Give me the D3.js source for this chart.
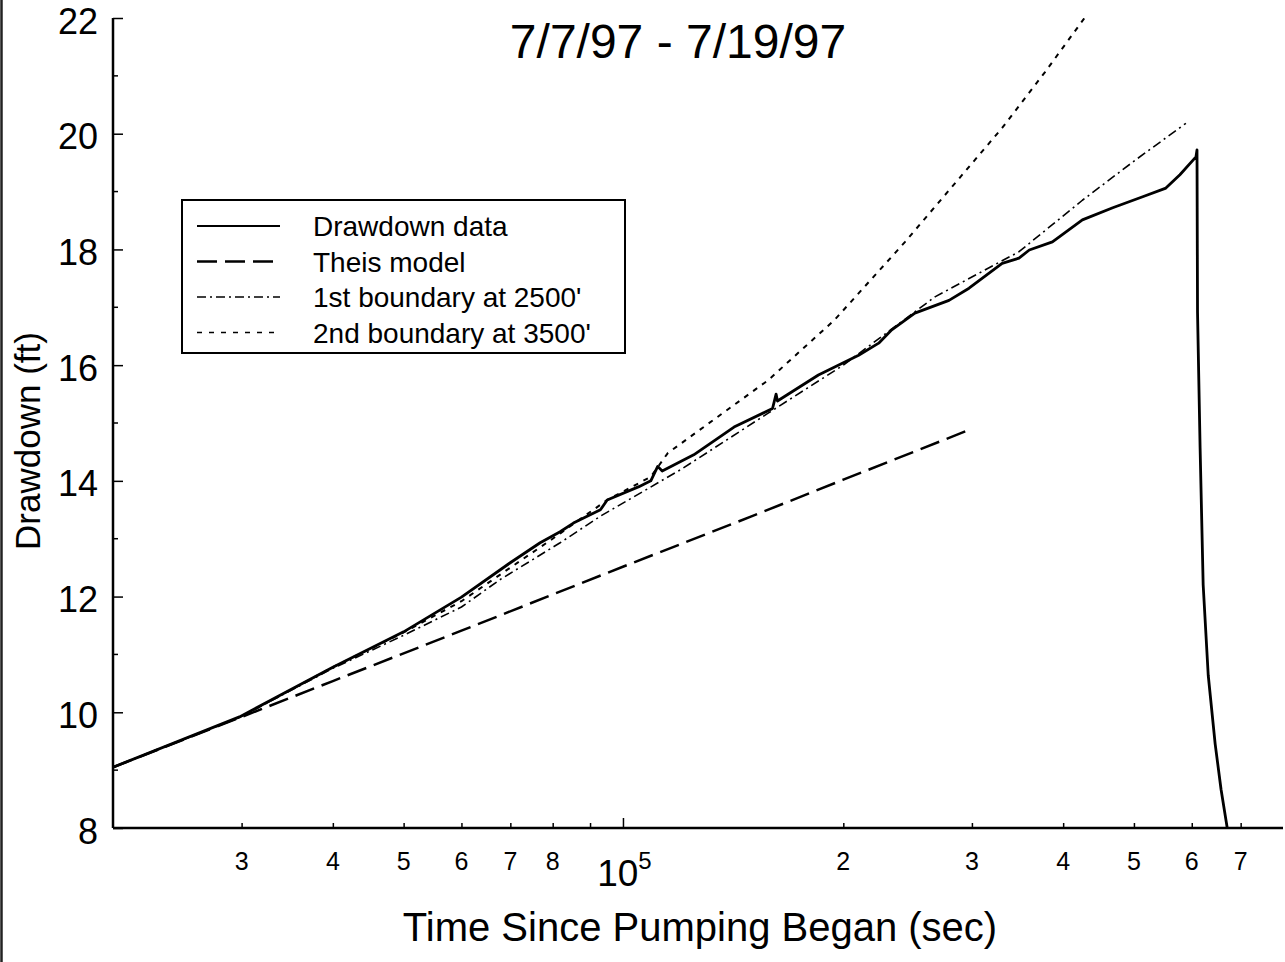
<!DOCTYPE html>
<html>
<head>
<meta charset="utf-8">
<script src="https://cdn.jsdelivr.net/npm/d3@7"></script>
<style>
  html, body { margin: 0; padding: 0; background: #fff; }
  svg { display: block; font-family: "Liberation Sans", Arial, sans-serif; }
</style>
</head>
<body>
<svg id="chart" width="1285" height="962"></svg>
<script>
// drawdown record, time since pumping began (sec) vs drawdown (ft)
const dataTime = [2e4, 2.98e4, 4e4, 5e4, 6e4, 6.99e4, 7.69e4, 8.19e4, 8.54e4, 9.3e4, 9.5e4,
  1.05e5, 1.09e5, 1.114e5, 1.13e5, 1.248e5, 1.417e5, 1.6e5, 1.618e5, 1.625e5, 1.849e5, 2.099e5,
  2.236e5, 2.33e5, 2.506e5, 2.791e5, 2.973e5, 3.3e5, 3.48e5, 3.595e5, 3.867e5, 4.25e5,
  4.677e5, 5.14e5, 5.53e5, 5.78e5, 6.08e5, 6.1e5,
  6.11e5, 6.16e5, 6.22e5, 6.32e5, 6.46e5, 6.58e5, 6.71e5];
const dataDrawdown = [9.05, 9.92, 10.78, 11.39, 11.99, 12.58, 12.93, 13.12, 13.27, 13.5, 13.67,
  13.9, 14.0, 14.25, 14.17, 14.45, 14.93, 15.25, 15.5, 15.38, 15.83, 16.17,
  16.38, 16.61, 16.9, 17.12, 17.33, 17.76, 17.85, 17.99, 18.13, 18.51,
  18.72, 18.91, 19.06, 19.29, 19.6, 19.72,
  16.92, 14.57, 12.2, 10.64, 9.45, 8.67, 8.0];

// Theis model
const theisTime = [2e4, 3e4, 4e4, 6e4, 1e5, 1.5e5, 2e5, 3e5];
const theisDrawdown = [9.05, 9.92, 10.54, 11.41, 12.52, 13.39, 14.02, 14.9];

// 1st boundary at 2500'
const b1Time = [2e4, 3e4, 4e4, 5e4, 6e4, 6.77e4, 8.19e4, 9.3e4, 1.2e5, 1.578e5, 2e5, 2.67e5,
  3.48e5, 4.25e5, 5.03e5, 5.89e5];
const b1Drawdown = [9.05, 9.93, 10.76, 11.33, 11.82, 12.29, 12.93, 13.39, 14.2, 15.17, 16.0, 17.18,
  17.96, 18.85, 19.55, 20.18];

// 2nd boundary at 3500'
const b2Time = [2e4, 3e4, 4e4, 5e4, 6e4, 7e4, 8e4, 9.5e4, 1.09e5, 1.15e5, 1.578e5, 1.945e5,
  2.43e5, 3.3e5, 3.78e5, 4.29e5, 4.6e5];
const b2Drawdown = [9.05, 9.93, 10.78, 11.38, 11.92, 12.5, 13.0, 13.67, 14.07, 14.48, 15.74, 16.78,
  18.13, 20.1, 21.07, 22.02, 22.6];

const xMinorTicks = [3e4, 4e4, 5e4, 6e4, 7e4, 8e4, 9e4, 2e5, 3e5, 4e5, 5e5, 6e5, 7e5];
const xTickLabels = ["3", "4", "5", "6", "7", "8", "", "2", "3", "4", "5", "6", "7"];
const yMajorTicks = [8, 10, 12, 14, 16, 18, 20, 22];
const yMinorTicks = [9, 11, 13, 15, 17, 19, 21];

const legendNames = ["Drawdown data", "Theis model", "1st boundary at 2500'", "2nd boundary at 3500'"];

const plotLeft = 113, plotRight = 1283, plotTop = 18, plotBottom = 828;

const svg = d3.select("#chart");
const x = d3.scaleLog().domain([2e4, 8e5]).range([plotLeft, plotRight]);
const y = d3.scaleLinear().domain([8, 22]).range([plotBottom, plotTop]);

// scan edge on the far left
svg.append("line")
  .attr("x1", 1.5).attr("x2", 1.5).attr("y1", 0).attr("y2", 962)
  .attr("stroke", "#222").attr("stroke-width", 2.5);

svg.append("defs").append("clipPath").attr("id", "plot")
  .append("rect").attr("x", plotLeft).attr("y", plotTop)
  .attr("width", plotRight - plotLeft).attr("height", plotBottom - plotTop);

// axes
const xAxis = d3.axisBottom(x).tickValues(xMinorTicks).tickSize(-5).tickFormat("");
const gx = svg.append("g").attr("transform", `translate(0,${plotBottom})`).call(xAxis);
gx.select(".domain").attr("stroke-width", 2.5).attr("d", `M${plotLeft},0H${plotRight}`);
gx.selectAll(".tick line").attr("stroke-width", 1.5);

svg.append("line")
  .attr("x1", x(1e5)).attr("x2", x(1e5)).attr("y1", plotBottom).attr("y2", plotBottom - 10)
  .attr("stroke", "#000").attr("stroke-width", 1.5);

svg.append("g").selectAll("text")
  .data(xMinorTicks.map((v, i) => [v, xTickLabels[i]]).filter(d => d[1]))
  .join("text")
  .attr("x", d => x(d[0]))
  .attr("y", plotBottom + 42)
  .attr("text-anchor", "middle")
  .attr("font-size", 25)
  .text(d => d[1]);

const tenLabel = svg.append("text")
  .attr("x", x(1e5) + 1).attr("y", plotBottom + 58)
  .attr("text-anchor", "middle").attr("font-size", 37);
tenLabel.append("tspan").text("10");
tenLabel.append("tspan").attr("dy", -17).attr("font-size", 24).text("5");

const yAxis = d3.axisLeft(y).tickValues(yMajorTicks).tickSize(-10).tickPadding(15).tickFormat(d3.format("d"));
const gy = svg.append("g").attr("transform", `translate(${plotLeft},0)`).call(yAxis);
gy.select(".domain").attr("stroke-width", 2.5).attr("d", `M0,${plotTop}V${plotBottom}`);
gy.selectAll(".tick line").attr("stroke-width", 1.5);
gy.selectAll(".tick text").attr("font-size", 36).attr("fill", "#000")
  .attr("font-family", "Liberation Sans, Arial, sans-serif").attr("dy", "0.42em");

svg.append("g").selectAll("line")
  .data(yMinorTicks)
  .join("line")
  .attr("x1", plotLeft).attr("x2", plotLeft + 5)
  .attr("y1", d => y(d)).attr("y2", d => y(d))
  .attr("stroke", "#000").attr("stroke-width", 1.5);

// series
const line = d3.line().x(d => x(d[0])).y(d => y(d[1]));
const plot = svg.append("g").attr("clip-path", "url(#plot)");

const series = [
  { t: theisTime, v: theisDrawdown, dash: "20,8", w: 2.5 },
  { t: b1Time, v: b1Drawdown, dash: "9,4,2,4", w: 1.6 },
  { t: b2Time, v: b2Drawdown, dash: "5,6", w: 2 },
  { t: dataTime, v: dataDrawdown, dash: null, w: 2.8 }
];

series.forEach(s => {
  plot.append("path")
    .datum(s.t.map((t, i) => [t, s.v[i]]))
    .attr("d", line)
    .attr("fill", "none")
    .attr("stroke", "#000")
    .attr("stroke-width", s.w)
    .attr("stroke-dasharray", s.dash)
    .attr("stroke-linejoin", "round");
});

// legend
const legend = svg.append("g");
legend.append("rect")
  .attr("x", 182).attr("y", 200).attr("width", 443).attr("height", 153)
  .attr("fill", "#fff").attr("stroke", "#000").attr("stroke-width", 2);

const legendStyles = [
  { dash: null, w: 2 },
  { dash: "20,8", w: 2.5 },
  { dash: "9,4,2,4", w: 1.6 },
  { dash: "5,7", w: 1.6 }
];
legendNames.forEach((name, i) => {
  const ly = 226 + i * 35.5;
  legend.append("line")
    .attr("x1", 197).attr("x2", 280).attr("y1", ly).attr("y2", ly)
    .attr("stroke", "#000").attr("stroke-width", legendStyles[i].w)
    .attr("stroke-dasharray", legendStyles[i].dash);
  legend.append("text")
    .attr("x", 313).attr("y", ly + 10)
    .attr("font-size", 28)
    .text(name);
});

// titles
svg.append("text")
  .attr("x", 678).attr("y", 58)
  .attr("text-anchor", "middle").attr("font-size", 48)
  .text("7/7/97 - 7/19/97");

svg.append("text")
  .attr("x", 700).attr("y", 941)
  .attr("text-anchor", "middle").attr("font-size", 40)
  .text("Time Since Pumping Began (sec)");

svg.append("text")
  .attr("transform", "translate(40,441) rotate(-90)")
  .attr("text-anchor", "middle").attr("font-size", 35)
  .text("Drawdown (ft)");
</script>
</body>
</html>
